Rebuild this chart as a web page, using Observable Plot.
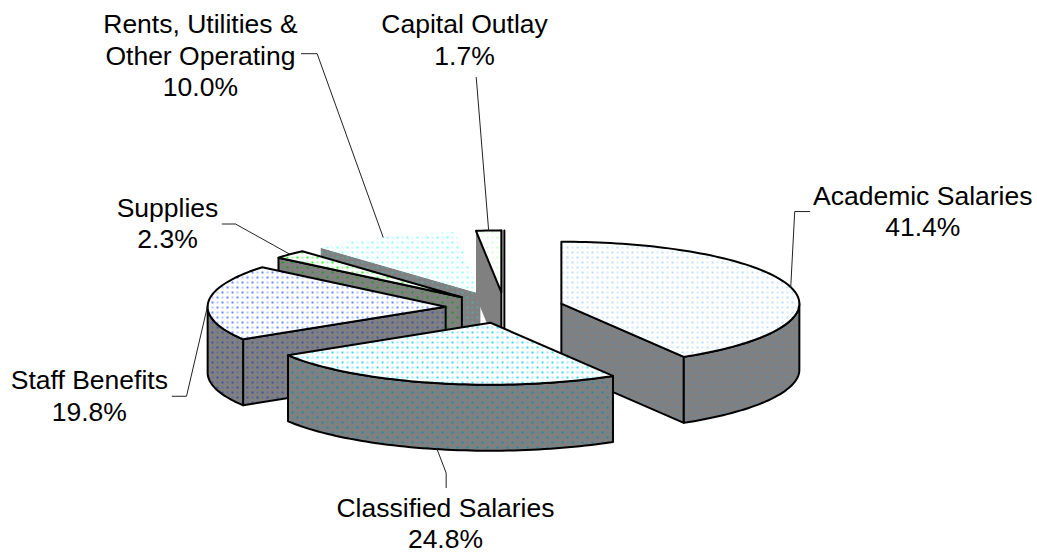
<!DOCTYPE html>
<html>
<head>
<meta charset="utf-8">
<script src="https://cdn.jsdelivr.net/npm/d3@7"></script>
<script src="https://cdn.jsdelivr.net/npm/@observablehq/plot@0.6"></script>
<style>
html,body{margin:0;padding:0;background:#fff}
svg{display:block}
</style>
</head>
<body>
<div id="chart"></div>
<script>
// Chart values
const categories = ["Academic Salaries","Classified Salaries","Staff Benefits","Supplies","Rents, Utilities &\nOther Operating","Capital Outlay"];
const shares = [41.4,24.8,19.8,2.3,10.0,1.7];

// Look of each slice (same order as the categories)
const dotStrong = ["#a6d2ff","#00d0ff","#3d6bff","#00f000","#66ffff","#c8ffc8"];
const dotWeak   = ["#d0e8ff","#8ce8ff","#a0b8ff","#90ff90","#c0ffff","#e6ffe6"];
const wallStrong= ["#5f8aad","#0f8aab","#2a48ab","#109a10","#50b0b4","#808080"];
const wallWeak  = ["#77858f","#5d8894","#5f6a96","#5f8f5f","#6c9597","#808080"];
const outlined  = [true,true,true,true,false,true];
const drawOrder = [4,5,3,2,0,1];

// Label and leader placement, in pixels relative to each slice's rim point
const labelOffset = [[132,-105],[11.2,45.5],[-118.9,64.6],[-122.4,-59.9],[-182.7,-226.5],[-24.1,-219.6]];
const leaderOffset = [
  [[0,0],[4,-75.6],[19,-75.6]],
  [[2.7,0],[11.9,24],[11.9,38.6]],
  [[-1,5],[-21.7,93.8],[-36,93.8]],
  [[0,0],[-54.4,-30.3],[-67.7,-30.3]],
  [[0,0],[-66,-183.5],[-81.7,-183.5]],
  [[0,0],[-12.4,-153.1]]
];

// Pie projection: unit radius = `unit` pixels in both scales
const W = 1037, H = 557, unit = 238, originX = 504, originY = 307.3;
const tilt = 62/238, depth = 66/238, explode = 59/238;

const rad = d => d*Math.PI/180;
const total = d3.sum(shares);
const ends = d3.cumsum(shares).map(v => v/total*360);
const slices = categories.map((name,i) => {
  const a0 = i ? ends[i-1] : 0, a1 = ends[i], mid = (a0+a1)/2;
  return {i,name,share:shares[i],a0,a1,mid,
    cx: explode*Math.sin(rad(mid)),
    cy: explode*tilt*Math.cos(rad(mid))};
});
const rim = (s,a,z=0) => ({x:s.cx+Math.sin(rad(a)), y:s.cy+tilt*Math.cos(rad(a))-z});
const hub = (s,z=0) => ({x:s.cx,y:s.cy-z});
const arc = (s,a0,a1,z=0) => {
  const n = Math.max(2,Math.ceil(Math.abs(a1-a0)/1.5)), out=[];
  for(let k=0;k<=n;k++) out.push(rim(s,a0+(a1-a0)*k/n,z));
  return out;
};
const px = v => v/unit;

const defs = () => {
  const d = d3.create("svg:defs");
  const tile = (id,bg,strong,weak) => {
    const p = d.append("svg:pattern").attr("id",id).attr("patternUnits","userSpaceOnUse")
      .attr("width",10).attr("height",10);
    p.append("svg:rect").attr("width",10).attr("height",10).attr("fill",bg);
    [[0,0,strong],[5,5,strong],[5,0,weak],[0,5,weak]].forEach(([x,y,c]) =>
      p.append("svg:rect").attr("x",x+1.1).attr("y",y+1.1).attr("width",1.8).attr("height",1.8).attr("fill",c));
  };
  slices.forEach(s => {
    tile("top"+s.i,"#fff",dotStrong[s.i],dotWeak[s.i]);
    tile("wall"+s.i,"#808080",wallStrong[s.i],wallWeak[s.i]);
  });
  return d.node();
};

const marks = [defs];
const poly = (pts,fill,stroke) => marks.push(Plot.line(pts,{
  x:"x",y:"y",fill,stroke:stroke?"#000":"none",strokeWidth:2,strokeLinejoin:"round",strokeLinecap:"round"}));

drawOrder.forEach(i => {
  const s = slices[i], wall = `url(#wall${i})`, top = `url(#top${i})`, line = outlined[i] && i!==5;
  // Radial walls that face the viewer
  if (Math.sin(rad(s.a0))<0) {
    const q=[hub(s),rim(s,s.a0),rim(s,s.a0,depth),hub(s,depth)];
    poly([...q,q[0]],wall,line);
  }
  if (Math.sin(rad(s.a1))>1e-6) {
    const q=[hub(s),rim(s,s.a1),rim(s,s.a1,depth),hub(s,depth)];
    poly([...q,q[0]],wall,line);
  }
  // Rim wall on the near half of the pie
  const r0=Math.max(s.a0,90), r1=Math.min(s.a1,270);
  if (r1>r0) {
    const up=arc(s,r0,r1), down=arc(s,r1,r0,depth);
    poly([...up,...down,up[0]],wall,line);
  }
  // Zero-width end wall of the last slice and the sliver beside it
  if (s.a1>=360) {
    poly([rim(s,360),hub(s,depth)],"none",true);
    const nudge=px(3);
    poly([{x:s.cx+nudge,y:rim(s,360).y},{x:s.cx+nudge,y:s.cy-depth}],"none",true);
  }
  // Top face
  poly([hub(s),...arc(s,s.a0,s.a1),hub(s)],top,outlined[i]);
});

slices.forEach(s => {
  const base = s.i===1 ? rim(s,s.mid,depth) : rim(s,s.mid);
  marks.push(Plot.line(leaderOffset[s.i].map(([dx,dy]) => ({x:base.x+px(dx),y:base.y-px(dy)})),
    {x:"x",y:"y",stroke:"#222",strokeWidth:1}));
  const [lx,ly]=labelOffset[s.i];
  marks.push(Plot.text([s],{
    x:()=>base.x+px(lx), y:()=>base.y-px(ly),
    text:d=>`${d.name}\n${d.share.toFixed(1)}%`,
    lineAnchor:"top",textAnchor:"middle",lineHeight:1.19,
    fontSize:26.5,fontFamily:"'Liberation Sans',Arial,sans-serif",fill:"#000"}));
});

const chart = Plot.plot({
  width:W,height:H,margin:0,
  style:{background:"#fff",overflow:"hidden"},
  x:{axis:null,domain:[-originX/unit,(W-originX)/unit],range:[0,W]},
  y:{axis:null,domain:[-(H-originY)/unit,originY/unit],range:[H,0]},
  marks
});
document.getElementById("chart").appendChild(chart);
</script>
</body>
</html>
